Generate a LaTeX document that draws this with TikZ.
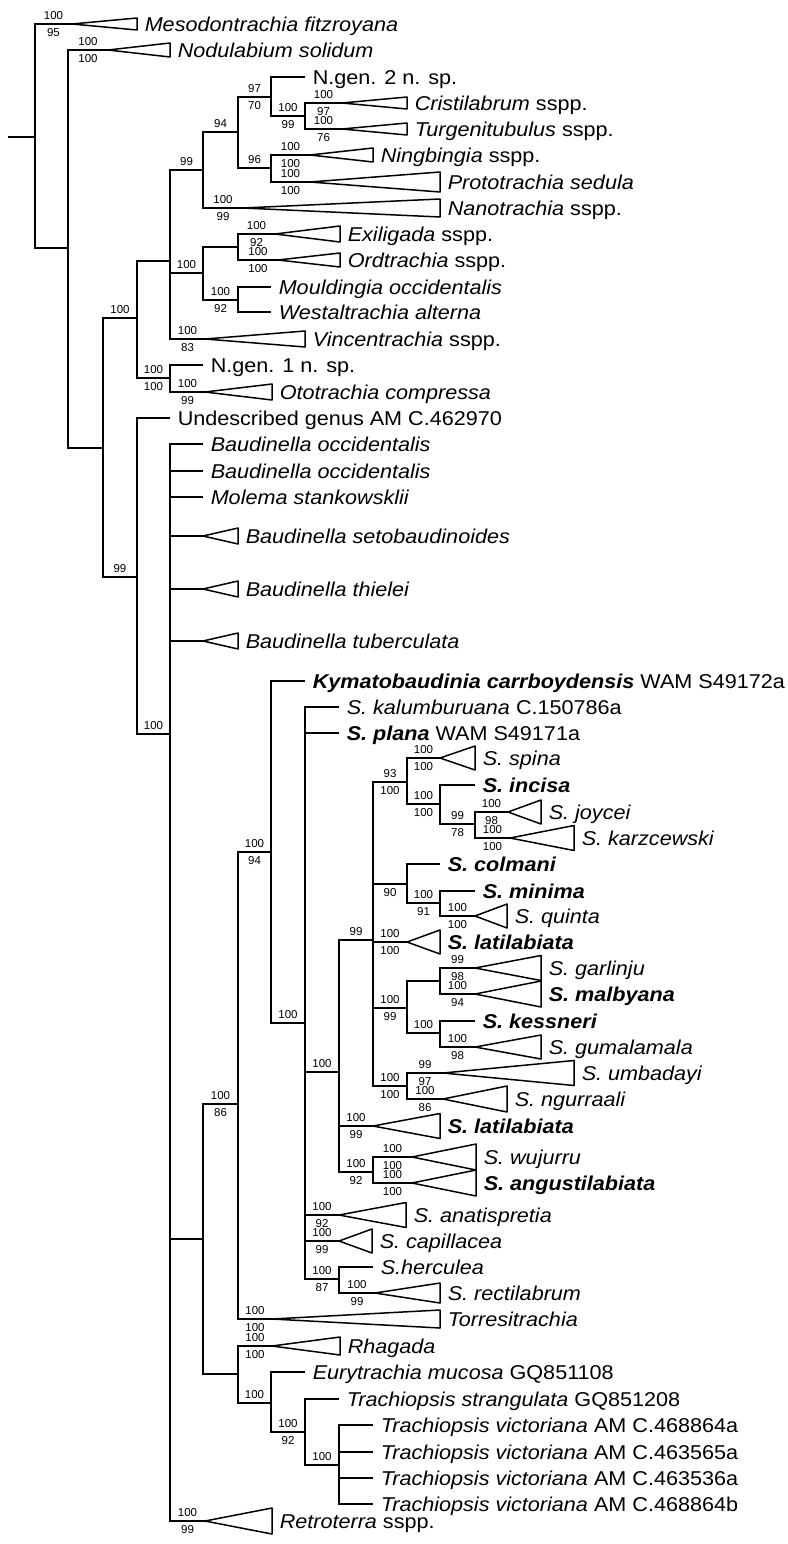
\documentclass[tikz,border=0pt]{standalone}
\usepackage{fontspec}
\setmainfont{Liberation Sans}[FakeStretch=1.08]
\newfontfamily\bsfont{Liberation Sans}
\usetikzlibrary{calc}

\begin{document}
\begin{tikzpicture}[x=1pt, y=-1pt, line width=1.5pt,
  leaf/.style={anchor=west, inner xsep=7pt, inner ysep=0pt, text height=18.4pt, text depth=4pt, font=\fontsize{20}{24}\selectfont},
  clade/.style={line join=round},
  bsa/.style={font=\bsfont\fontsize{11.5}{12}\selectfont, inner sep=0pt, yshift=8.5pt},
  bsb/.style={font=\bsfont\fontsize{11.5}{12}\selectfont, inner sep=0pt, yshift=-8.5pt}]
  \useasboundingbox (0,0) rectangle (787,1544);

  \coordinate (stem) at (8,137);
  \coordinate (root) at (35,137);
  \coordinate (nA) at (68,248);
  \coordinate (nB) at (103,448);
  \coordinate (nC) at (137,318);
  \coordinate (nD) at (137,577);
  \coordinate (nE) at (170,261);
  \coordinate (nG) at (203,170);
  \coordinate (nI) at (238,132);
  \coordinate (nJ) at (271,97);
  \coordinate (nL) at (305,116);
  \coordinate (nK) at (271,168);
  \coordinate (nH) at (203,273);
  \coordinate (nN) at (238,247);
  \coordinate (nM) at (238,300);
  \coordinate (nF) at (170,378);
  \coordinate (nO) at (170,734);
  \coordinate (nP) at (203,1239);
  \coordinate (nQ) at (238,1104);
  \coordinate (nS) at (271,852);
  \coordinate (nT) at (305,1023);
  \coordinate (nU) at (339,1072);
  \coordinate (nW) at (373,940);
  \coordinate (nY) at (407,782);
  \coordinate (nAC) at (440,804);
  \coordinate (nAD) at (475,824);
  \coordinate (nZ) at (407,884);
  \coordinate (nAE) at (440,903);
  \coordinate (nAA) at (407,1008);
  \coordinate (nAF) at (440,981);
  \coordinate (nAG) at (440,1033);
  \coordinate (nAB) at (407,1086);
  \coordinate (nX) at (373,1172);
  \coordinate (nV) at (339,1279);
  \coordinate (nR) at (238,1374);
  \coordinate (nAH) at (271,1403);
  \coordinate (nAI) at (305,1432);
  \coordinate (nAJ) at (339,1465);

  \draw (stem) -- (root);
  \draw (root) |- (nA);
  \draw (nA) |- (nB);
  \draw (nB) |- node[bsa,pos=.75] (bC1) {100} (nC);
  \draw (nB) |- node[bsa,pos=.75] (bD1) {99} (nD);
  \draw (nC) |- (nE);
  \draw (nE) |- node[bsa,pos=.75] (bG1) {99} (nG);
  \draw (nG) |- node[bsa,pos=.75] (bI1) {94} (nI);
  \draw (nI) |- node[bsa,pos=.75] (bJ1) {97} node[bsb,pos=.75] (bJ2) {70} (nJ);
  \draw (nJ) |- node[bsa,pos=.75] (bL1) {100} node[bsb,pos=.75] (bL2) {99} (nL);
  \draw (nI) |- node[bsa,pos=.75] (bK1) {96} (nK);
  \draw (nE) |- node[bsa,pos=.75] (bH1) {100} (nH);
  \draw (nH) |- (nN);
  \draw (nH) |- node[bsa,pos=.75] (bM1) {100} node[bsb,pos=.75] (bM2) {92} (nM);
  \draw (nC) |- node[bsa,pos=.75] (bF1) {100} node[bsb,pos=.75] (bF2) {100} (nF);
  \draw (nD) |- node[bsa,pos=.75] (bO1) {100} (nO);
  \draw (nO) |- (nP);
  \draw (nP) |- node[bsa,pos=.75] (bQ1) {100} node[bsb,pos=.75] (bQ2) {86} (nQ);
  \draw (nQ) |- node[bsa,pos=.75] (bS1) {100} node[bsb,pos=.75] (bS2) {94} (nS);
  \draw (nS) |- node[bsa,pos=.75] (bT1) {100} (nT);
  \draw (nT) |- node[bsa,pos=.75] (bU1) {100} (nU);
  \draw (nU) |- node[bsa,pos=.75] (bW1) {99} (nW);
  \draw (nW) |- node[bsa,pos=.75] (bY1) {93} node[bsb,pos=.75] (bY2) {100} (nY);
  \draw (nY) |- node[bsa,pos=.75] (bAC1) {100} node[bsb,pos=.75] (bAC2) {100} (nAC);
  \draw (nAC) |- node[bsa,pos=.75] (bAD1) {99} node[bsb,pos=.75] (bAD2) {78} (nAD);
  \draw (nW) |- node[bsb,pos=.75] (bZ2) {90} (nZ);
  \draw (nZ) |- node[bsa,pos=.75] (bAE1) {100} node[bsb,pos=.75] (bAE2) {91} (nAE);
  \draw (nW) |- node[bsa,pos=.75] (bAA1) {100} node[bsb,pos=.75] (bAA2) {99} (nAA);
  \draw (nAA) |- (nAF);
  \draw (nAA) |- node[bsa,pos=.75] (bAG1) {100} (nAG);
  \draw (nW) |- node[bsa,pos=.75] (bAB1) {100} node[bsb,pos=.75] (bAB2) {100} (nAB);
  \draw (nU) |- node[bsa,pos=.75] (bX1) {100} node[bsb,pos=.75] (bX2) {92} (nX);
  \draw (nT) |- node[bsa,pos=.75] (bV1) {100} node[bsb,pos=.75] (bV2) {87} (nV);
  \draw (nP) |- (nR);
  \draw (nR) |- node[bsa,pos=.75] (bAH1) {100} (nAH);
  \draw (nAH) |- node[bsa,pos=.75] (bAI1) {100} node[bsb,pos=.75] (bAI2) {92} (nAI);
  \draw (nAI) |- node[bsa,pos=.75] (bAJ1) {100} (nAJ);

  \coordinate (mesoA) at (72,24);
  \node[leaf] (meso) at (137,24) {\textit{Mesodontrachia fitzroyana}};
  \draw[clade] (mesoA) -- ([yshift=6pt]meso.west) -- ([yshift=-6pt]meso.west) -- cycle;
  \draw (root) |- node[bsa,pos=.75] (b1) {100} node[bsb,pos=.75] (b2) {95} (mesoA);

  \coordinate (noduA) at (108,50);
  \node[leaf] (nodu) at (170,50) {\textit{Nodulabium solidum}};
  \draw[clade] (noduA) -- ([yshift=7pt]nodu.west) -- ([yshift=-7pt]nodu.west) -- cycle;
  \draw (nA) |- node[bsa,pos=.75] (b3) {100} node[bsb,pos=.75] (b4) {100} (noduA);

  \node[leaf] (ngen2) at (305,77) {N.gen. 2 n. sp.};
  \draw (nJ) |- (ngen2.west);

  \coordinate (cristA) at (342,103);
  \node[leaf] (crist) at (407,103) {\textit{Cristilabrum} sspp.};
  \draw[clade] (cristA) -- ([yshift=6pt]crist.west) -- ([yshift=-6pt]crist.west) -- cycle;
  \draw (nL) |- node[bsa,pos=.75] (b5) {100} node[bsb,pos=.75] (b6) {97} (cristA);

  \coordinate (turgA) at (342,129);
  \node[leaf] (turg) at (407,129) {\textit{Turgenitubulus} sspp.};
  \draw[clade] (turgA) -- ([yshift=6pt]turg.west) -- ([yshift=-6pt]turg.west) -- cycle;
  \draw (nL) |- node[bsa,pos=.75] (b7) {100} node[bsb,pos=.75] (b8) {76} (turgA);

  \coordinate (ningA) at (310,155);
  \node[leaf] (ning) at (373,155) {\textit{Ningbingia} sspp.};
  \draw[clade] (ningA) -- ([yshift=7pt]ning.west) -- ([yshift=-7pt]ning.west) -- cycle;
  \draw (nK) |- node[bsa,pos=.75] (b9) {100} node[bsb,pos=.75] (b10) {100} (ningA);

  \coordinate (protA) at (310,182);
  \node[leaf] (prot) at (440,182) {\textit{Prototrachia sedula}};
  \draw[clade] (protA) -- ([yshift=10pt]prot.west) -- ([yshift=-10pt]prot.west) -- cycle;
  \draw (nK) |- node[bsa,pos=.75] (b11) {100} node[bsb,pos=.75] (b12) {100} (protA);

  \coordinate (nanoA) at (243,208);
  \node[leaf] (nano) at (440,208) {\textit{Nanotrachia} sspp.};
  \draw[clade] (nanoA) -- ([yshift=9pt]nano.west) -- ([yshift=-9pt]nano.west) -- cycle;
  \draw (nG) |- node[bsa,pos=.75] (b13) {100} node[bsb,pos=.75] (b14) {99} (nanoA);

  \coordinate (exilA) at (275,234);
  \node[leaf] (exil) at (340,234) {\textit{Exiligada} sspp.};
  \draw[clade] (exilA) -- ([yshift=8pt]exil.west) -- ([yshift=-8pt]exil.west) -- cycle;
  \draw (nN) |- node[bsa,pos=.75] (b15) {100} node[bsb,pos=.75] (b16) {92} (exilA);

  \coordinate (ordtA) at (278,260);
  \node[leaf] (ordt) at (340,260) {\textit{Ordtrachia} sspp.};
  \draw[clade] (ordtA) -- ([yshift=7pt]ordt.west) -- ([yshift=-7pt]ordt.west) -- cycle;
  \draw (nN) |- node[bsa,pos=.75] (b17) {100} node[bsb,pos=.75] (b18) {100} (ordtA);

  \node[leaf] (mould) at (271,287) {\textit{Mouldingia occidentalis}};
  \draw (nM) |- (mould.west);
  \node[leaf] (westal) at (271,312) {\textit{Westaltrachia alterna}};
  \draw (nM) |- (westal.west);

  \coordinate (vincA) at (205,339);
  \node[leaf] (vinc) at (305,339) {\textit{Vincentrachia} sspp.};
  \draw[clade] (vincA) -- ([yshift=8pt]vinc.west) -- ([yshift=-8pt]vinc.west) -- cycle;
  \draw (nE) |- node[bsa,pos=.75] (b19) {100} node[bsb,pos=.75] (b20) {83} (vincA);

  \node[leaf] (ngen1) at (203,365) {N.gen. 1 n. sp.};
  \draw (nF) |- (ngen1.west);

  \coordinate (ototA) at (205,392);
  \node[leaf] (otot) at (272,392) {\textit{Ototrachia compressa}};
  \draw[clade] (ototA) -- ([yshift=8pt]otot.west) -- ([yshift=-8pt]otot.west) -- cycle;
  \draw (nF) |- node[bsa,pos=.75] (b21) {100} node[bsb,pos=.75] (b22) {99} (ototA);

  \node[leaf] (undesc) at (170,418) {Undescribed genus AM C.462970};
  \draw (nD) |- (undesc.west);

  \node[leaf] (baudoc1) at (203,444) {\textit{Baudinella occidentalis}};
  \draw (nO) |- (baudoc1.west);
  \node[leaf] (baudoc2) at (203,471) {\textit{Baudinella occidentalis}};
  \draw (nO) |- (baudoc2.west);
  \node[leaf] (molema) at (203,497) {\textit{Molema stankowsklii}};
  \draw (nO) |- (molema.west);

  \coordinate (setoA) at (203,536);
  \node[leaf] (seto) at (238,536) {\textit{Baudinella setobaudinoides}};
  \draw[clade] (setoA) -- ([yshift=8pt]seto.west) -- ([yshift=-8pt]seto.west) -- cycle;
  \draw (nO) |- (setoA);

  \coordinate (thieA) at (203,589);
  \node[leaf] (thie) at (238,589) {\textit{Baudinella thielei}};
  \draw[clade] (thieA) -- ([yshift=8pt]thie.west) -- ([yshift=-8pt]thie.west) -- cycle;
  \draw (nO) |- (thieA);

  \coordinate (tubeA) at (203,641);
  \node[leaf] (tube) at (238,641) {\textit{Baudinella tuberculata}};
  \draw[clade] (tubeA) -- ([yshift=8pt]tube.west) -- ([yshift=-8pt]tube.west) -- cycle;
  \draw (nO) |- (tubeA);

  \node[leaf] (kymato) at (305,681) {\textbf{\textit{Kymatobaudinia carrboydensis}} WAM S49172a};
  \draw (nS) |- (kymato.west);
  \node[leaf] (kalum) at (339,707) {\textit{S. kalumburuana} C.150786a};
  \draw (nT) |- (kalum.west);
  \node[leaf] (plana) at (339,733) {\textbf{\textit{S. plana}} WAM S49171a};
  \draw (nT) |- (plana.west);

  \coordinate (spinaA) at (440,758);
  \node[leaf] (spina) at (475,758) {\textit{S. spina}};
  \draw[clade] (spinaA) -- ([yshift=12pt]spina.west) -- ([yshift=-12pt]spina.west) -- cycle;
  \draw (nY) |- node[bsa,pos=.75] (b23) {100} node[bsb,pos=.75] (b24) {100} (spinaA);

  \node[leaf] (incisa) at (475,785) {\textbf{\textit{S. incisa}}};
  \draw (nAC) |- (incisa.west);

  \coordinate (joyA) at (508,812);
  \node[leaf] (joy) at (541,812) {\textit{S. joycei}};
  \draw[clade] (joyA) -- ([yshift=12pt]joy.west) -- ([yshift=-12pt]joy.west) -- cycle;
  \draw (nAD) |- node[bsa,pos=.75] (b25) {100} node[bsb,pos=.75] (b26) {98} (joyA);

  \coordinate (karzA) at (510,838);
  \node[leaf] (karz) at (574,838) {\textit{S. karzcewski}};
  \draw[clade] (karzA) -- ([yshift=12.5pt]karz.west) -- ([yshift=-12.5pt]karz.west) -- cycle;
  \draw (nAD) |- node[bsa,pos=.75] (b27) {100} node[bsb,pos=.75] (b28) {100} (karzA);

  \node[leaf] (colm) at (440,864) {\textbf{\textit{S. colmani}}};
  \draw (nZ) |- (colm.west);
  \node[leaf] (minima) at (475,891) {\textbf{\textit{S. minima}}};
  \draw (nAE) |- (minima.west);

  \coordinate (quinA) at (475,916);
  \node[leaf] (quin) at (507,916) {\textit{S. quinta}};
  \draw[clade] (quinA) -- ([yshift=12pt]quin.west) -- ([yshift=-12pt]quin.west) -- cycle;
  \draw (nAE) |- node[bsa,pos=.75] (b29) {100} node[bsb,pos=.75] (b30) {100} (quinA);

  \coordinate (latiA) at (407,942);
  \node[leaf] (lati) at (440,942) {\textbf{\textit{S. latilabiata}}};
  \draw[clade] (latiA) -- ([yshift=12pt]lati.west) -- ([yshift=-12pt]lati.west) -- cycle;
  \draw (nW) |- node[bsa,pos=.75] (b31) {100} node[bsb,pos=.75] (b32) {100} (latiA);

  \coordinate (garlA) at (475,968);
  \node[leaf] (garl) at (541,968) {\textit{S. garlinju}};
  \draw[clade] (garlA) -- ([yshift=12.5pt]garl.west) -- ([yshift=-12.5pt]garl.west) -- cycle;
  \draw (nAF) |- node[bsa,pos=.75] (b33) {99} node[bsb,pos=.75] (b34) {98} (garlA);

  \coordinate (malbA) at (475,994);
  \node[leaf] (malb) at (541,994) {\textbf{\textit{S. malbyana}}};
  \draw[clade] (malbA) -- ([yshift=13pt]malb.west) -- ([yshift=-13pt]malb.west) -- cycle;
  \draw (nAF) |- node[bsa,pos=.75] (b35) {100} node[bsb,pos=.75] (b36) {94} (malbA);

  \node[leaf] (kess) at (475,1021) {\textbf{\textit{S. kessneri}}};
  \draw (nAG) |- (kess.west);

  \coordinate (gumaA) at (475,1047);
  \node[leaf] (guma) at (541,1047) {\textit{S. gumalamala}};
  \draw[clade] (gumaA) -- ([yshift=12pt]guma.west) -- ([yshift=-12pt]guma.west) -- cycle;
  \draw (nAG) |- node[bsa,pos=.75] (b37) {100} node[bsb,pos=.75] (b38) {98} (gumaA);

  \coordinate (umbaA) at (443,1073);
  \node[leaf] (umba) at (574,1073) {\textit{S. umbadayi}};
  \draw[clade] (umbaA) -- ([yshift=12.5pt]umba.west) -- ([yshift=-12.5pt]umba.west) -- cycle;
  \draw (nAB) |- node[bsa,pos=.75] (b39) {99} node[bsb,pos=.75] (b40) {97} (umbaA);

  \coordinate (ngurA) at (443,1099);
  \node[leaf] (ngur) at (507,1099) {\textit{S. ngurraali}};
  \draw[clade] (ngurA) -- ([yshift=13pt]ngur.west) -- ([yshift=-13pt]ngur.west) -- cycle;
  \draw (nAB) |- node[bsa,pos=.75] (b41) {100} node[bsb,pos=.75] (b42) {86} (ngurA);

  \coordinate (latibA) at (373,1126);
  \node[leaf] (latib) at (440,1126) {\textbf{\textit{S. latilabiata}}};
  \draw[clade] (latibA) -- ([yshift=12.5pt]latib.west) -- ([yshift=-12.5pt]latib.west) -- cycle;
  \draw (nU) |- node[bsa,pos=.75] (b43) {100} node[bsb,pos=.75] (b44) {99} (latibA);

  \coordinate (wujuA) at (412,1157);
  \node[leaf] (wuju) at (476,1157) {\textit{S. wujurru}};
  \draw[clade] (wujuA) -- ([yshift=13pt]wuju.west) -- ([yshift=-13pt]wuju.west) -- cycle;
  \draw (nX) |- node[bsa,pos=.75] (b45) {100} node[bsb,pos=.75] (b46) {100} (wujuA);

  \coordinate (angA) at (412,1183);
  \node[leaf] (ang) at (476,1183) {\textbf{\textit{S. angustilabiata}}};
  \draw[clade] (angA) -- ([yshift=13pt]ang.west) -- ([yshift=-13pt]ang.west) -- cycle;
  \draw (nX) |- node[bsa,pos=.75] (b47) {100} node[bsb,pos=.75] (b48) {100} (angA);

  \coordinate (anatA) at (339,1215);
  \node[leaf] (anat) at (406,1215) {\textit{S. anatispretia}};
  \draw[clade] (anatA) -- ([yshift=12.5pt]anat.west) -- ([yshift=-12.5pt]anat.west) -- cycle;
  \draw (nT) |- node[bsa,pos=.75] (b49) {100} node[bsb,pos=.75] (b50) {92} (anatA);

  \coordinate (capiA) at (339,1241);
  \node[leaf] (capi) at (372,1241) {\textit{S. capillacea}};
  \draw[clade] (capiA) -- ([yshift=12pt]capi.west) -- ([yshift=-12pt]capi.west) -- cycle;
  \draw (nT) |- node[bsa,pos=.75] (b51) {100} node[bsb,pos=.75] (b52) {99} (capiA);

  \node[leaf] (herc) at (373,1267) {\textit{S.herculea}};
  \draw (nV) |- (herc.west);

  \coordinate (rectA) at (375,1293);
  \node[leaf] (rect) at (440,1293) {\textit{S. rectilabrum}};
  \draw[clade] (rectA) -- ([yshift=10pt]rect.west) -- ([yshift=-10pt]rect.west) -- cycle;
  \draw (nV) |- node[bsa,pos=.75] (b53) {100} node[bsb,pos=.75] (b54) {99} (rectA);

  \coordinate (torrA) at (272,1319);
  \node[leaf] (torr) at (440,1319) {\textit{Torresitrachia}};
  \draw[clade] (torrA) -- ([yshift=9pt]torr.west) -- ([yshift=-9pt]torr.west) -- cycle;
  \draw (nQ) |- node[bsa,pos=.75] (b55) {100} node[bsb,pos=.75] (b56) {100} (torrA);

  \coordinate (rhagA) at (272,1346);
  \node[leaf] (rhag) at (340,1346) {\textit{Rhagada}};
  \draw[clade] (rhagA) -- ([yshift=9pt]rhag.west) -- ([yshift=-9pt]rhag.west) -- cycle;
  \draw (nR) |- node[bsa,pos=.75] (b57) {100} node[bsb,pos=.75] (b58) {100} (rhagA);

  \node[leaf] (eury) at (305,1372) {\textit{Eurytrachia mucosa} GQ851108};
  \draw (nAH) |- (eury.west);
  \node[leaf] (strang) at (339,1399) {\textit{Trachiopsis strangulata} GQ851208};
  \draw (nAI) |- (strang.west);
  \node[leaf] (vict1) at (373,1425) {\textit{Trachiopsis victoriana} AM C.468864a};
  \draw (nAJ) |- (vict1.west);
  \node[leaf] (vict2) at (373,1452) {\textit{Trachiopsis victoriana} AM C.463565a};
  \draw (nAJ) |- (vict2.west);
  \node[leaf] (vict3) at (373,1478) {\textit{Trachiopsis victoriana} AM C.463536a};
  \draw (nAJ) |- (vict3.west);
  \node[leaf] (vict4) at (373,1504) {\textit{Trachiopsis victoriana} AM C.468864b};
  \draw (nAJ) |- (vict4.west);

  \coordinate (retrA) at (205,1521);
  \node[leaf] (retr) at (272,1521) {\textit{Retroterra} sspp.};
  \draw[clade] (retrA) -- ([yshift=13pt]retr.west) -- ([yshift=-13pt]retr.west) -- cycle;
  \draw (nO) |- node[bsa,pos=.75] (b59) {100} node[bsb,pos=.75] (b60) {99} (retrA);
\end{tikzpicture}
\end{document}
